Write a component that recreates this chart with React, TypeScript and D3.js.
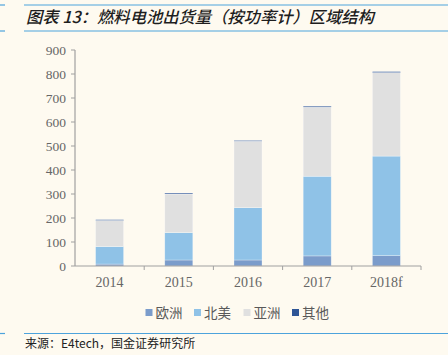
import React from "react";
import * as d3 from "d3";

const categories = ["2014", "2015", "2016", "2017", "2018f"];
const seriesNames = ["欧洲", "北美", "亚洲", "其他"];
const europe = [8, 25, 25, 42, 43];
const northAmerica = [73, 114, 218, 332, 415];
const asia = [109, 161, 277, 288, 348];
const other = [3, 4, 3, 4, 4];
const yTicks = [0, 100, 200, 300, 400, 500, 600, 700, 800, 900];
const colors = ["#7B9CCB", "#8FC2E7", "#E0E0E0", "#2E5596"];

const title = "图表 13：燃料电池出货量（按功率计）区域结构";
const source = "来源：E4tech，国金证券研究所";

export default function App() {
  const W = 448, H = 355;
  const x = d3.scaleBand<string>().domain(categories).range([75, 421]).paddingInner(0.595).paddingOuter(0.2975);
  const y = d3.scaleLinear().domain([0, 900]).range([266, 50]);
  const rows = categories.map((c, i) => ({
    cat: c,
    europe: europe[i],
    northAmerica: northAmerica[i],
    asia: asia[i],
    other: other[i],
  }));
  const keys = ["europe", "northAmerica", "asia", "other"];
  const stack = d3.stack<any>().keys(keys)(rows);
  const step = x.step();
  const lineColor = "#4DA3DC";
  const legendX = [145.5, 194, 243.5, 292];

  return (
    <svg width={W} height={H} style={{ position: "absolute", left: 0, top: 0 }}>
      <rect x={0} y={0} width={W} height={H} fill="#FEFAF0" />
      {/* header lines */}
      <line x1={0} x2={5} y1={5} y2={5} stroke={lineColor} strokeWidth={1.2} />
      <line x1={24} x2={448} y1={5} y2={5} stroke={lineColor} strokeWidth={1.2} />
      <line x1={0} x2={5} y1={31} y2={31} stroke={lineColor} strokeWidth={1.2} />
      <line x1={24} x2={448} y1={31} y2={31} stroke={lineColor} strokeWidth={1.2} />
      <text x={26} y={23} fontFamily="'Noto Sans CJK SC', sans-serif" fontSize={16.3} fontStyle="italic" fontWeight={500} fill="#1E1E1E">
        {title}
      </text>

      {/* y axis */}
      <line x1={75} x2={75} y1={y(900)} y2={y(0)} stroke="#A0A0A0" strokeWidth={1.2} />
      {yTicks.map((t) => (
        <g key={t}>
          <line x1={71} x2={75} y1={y(t)} y2={y(t)} stroke="#A0A0A0" strokeWidth={1} />
          <text x={66} y={y(t) + 4.5} textAnchor="end" fontFamily="'Liberation Serif', serif" fontSize={13.5} fill="#666666">
            {t}
          </text>
        </g>
      ))}

      {/* bars */}
      {stack.map((layer, li) => (
        <g key={li}>
          {layer.map((d: any, i: number) => (
            <rect
              key={i}
              x={x(categories[i])}
              width={x.bandwidth()}
              y={y(d[1])}
              height={Math.max(0, y(d[0]) - y(d[1]))}
              fill={colors[li]}
              stroke="#FFFFFF"
              strokeOpacity={0.5}
              strokeWidth={0.6}
            />
          ))}
        </g>
      ))}

      {/* x axis */}
      <line x1={75} x2={421} y1={266} y2={266} stroke="#A0A0A0" strokeWidth={1.2} />
      {categories.map((c, i) => (
        <g key={c}>
          <line x1={75 + step * (i + 1)} x2={75 + step * (i + 1)} y1={266} y2={270} stroke="#A0A0A0" strokeWidth={1} />
          <text x={(x(c) as number) + x.bandwidth() / 2} y={287} textAnchor="middle" fontFamily="'Liberation Serif', serif" fontSize={14} fill="#666666">
            {c}
          </text>
        </g>
      ))}

      {/* legend */}
      {seriesNames.map((n, i) => (
        <g key={n}>
          <rect x={legendX[i]} y={309} width={7} height={7} fill={colors[i]} />
          <text x={legendX[i] + 10} y={317.5} fontFamily="'Noto Sans CJK SC', sans-serif" fontSize={13.5} fill="#595959">
            {n}
          </text>
        </g>
      ))}

      {/* footer */}
      <line x1={0} x2={5} y1={333.5} y2={333.5} stroke={lineColor} strokeWidth={1.2} />
      <line x1={24} x2={448} y1={333.5} y2={333.5} stroke={lineColor} strokeWidth={1.2} />
      <text x={25} y={348} fontFamily="'Noto Sans CJK SC', sans-serif" fontSize={12} fill="#222222">
        {source}
      </text>
    </svg>
  );
}
